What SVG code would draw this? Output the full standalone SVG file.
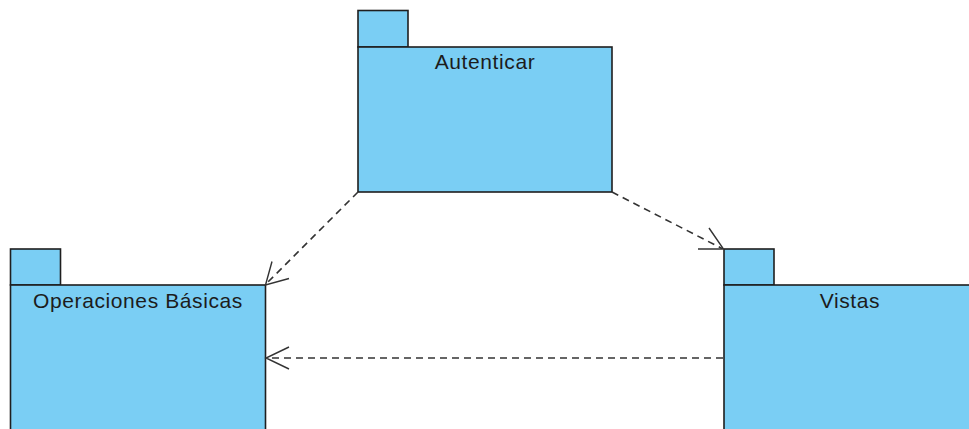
<svg xmlns="http://www.w3.org/2000/svg" width="969" height="429" viewBox="0 0 969 429">
  <style>
    .pkg { fill: #7acef4; stroke: #1f1f1f; stroke-width: 1.6; }
    .label { font-family: "Liberation Sans", Arial, sans-serif; font-size: 21px; letter-spacing: 0.6px; fill: #1c1c1c; text-anchor: middle; }
    .dep { fill: none; stroke: #333333; stroke-width: 1.6; stroke-dasharray: 7 5; }
    .head { fill: none; stroke: #333333; stroke-width: 1.4; }
  </style>
  <rect width="969" height="429" fill="#ffffff"/>

  <g id="autenticar">
    <rect class="pkg" x="358" y="10.5" width="50" height="36.5"/>
    <rect class="pkg" x="358" y="47" width="254" height="145"/>
    <text class="label" x="485" y="69">Autenticar</text>
  </g>

  <g id="operaciones-basicas">
    <rect class="pkg" x="10.5" y="249" width="50" height="36"/>
    <rect class="pkg" x="10.5" y="285" width="255" height="160"/>
    <text class="label" x="138" y="308">Operaciones Básicas</text>
  </g>

  <g id="vistas">
    <rect class="pkg" x="724" y="249" width="50" height="36"/>
    <rect class="pkg" x="724" y="285" width="260" height="160"/>
    <text class="label" x="850" y="308">Vistas</text>
  </g>

  <g id="connectors">
    <!-- Autenticar -> Operaciones Básicas -->
    <line class="dep" x1="358" y1="192" x2="266" y2="284"/>
    <polyline class="head" points="272,261.5 265.5,285 289,278.5"/>
    <!-- Autenticar -> Vistas -->
    <line class="dep" x1="612" y1="192" x2="722" y2="248.5"/>
    <polyline class="head" points="709,228 723.5,249 698,249"/>
    <!-- Vistas -> Operaciones Básicas -->
    <line class="dep" x1="723" y1="358" x2="267" y2="358"/>
    <polyline class="head" points="289,347 266,358 289,369"/>
  </g>
</svg>
